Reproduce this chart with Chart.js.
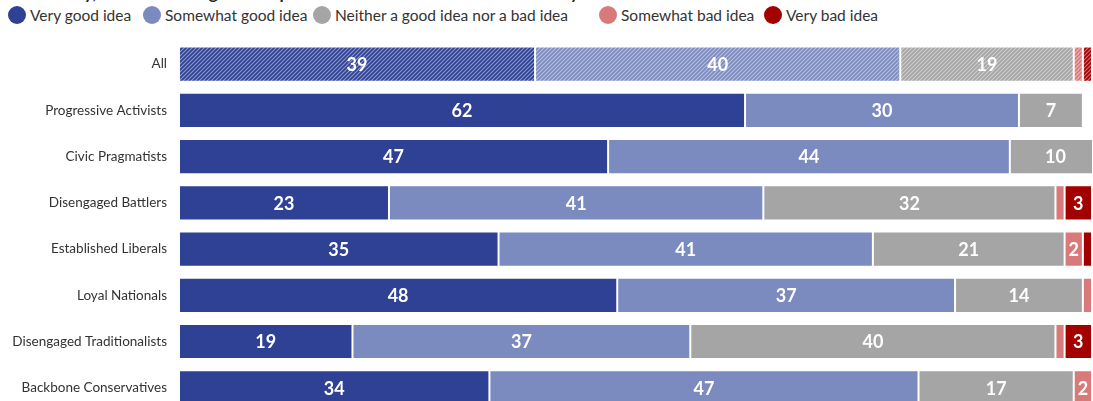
<!DOCTYPE html>
<html>
<head>
<meta charset="utf-8">
<script src="https://cdn.jsdelivr.net/npm/chart.js@4"></script>
<style>
  body { margin: 0; overflow: hidden; background: #fff; font-family: Lato, "Noto Sans", sans-serif; }
  #title { position: absolute; left: 8px; top: -18px; font-weight: bold; font-size: 17px; color: #222; white-space: nowrap; }
  #legend { position: absolute; left: 0; top: 6px; width: 1093px; height: 20px; font-size: 15.5px; color: #333; }
  #legend span.item { position: absolute; top: 0; display: flex; align-items: center; gap: 4px; white-space: nowrap; }
  #legend span.dot { width: 18px; height: 18px; border-radius: 50%; display: inline-block; }
  #chart { position: absolute; left: 0; top: 0; }
</style>
</head>
<body>
<div id="title">community, rather than to generate profits for shareholders or owners. Do you think this is a:</div>
<div id="legend"></div>
<canvas id="chart" width="1093" height="431"></canvas>
<script>
var categories = ['All', 'Progressive Activists', 'Civic Pragmatists', 'Disengaged Battlers',
    'Established Liberals', 'Loyal Nationals', 'Disengaged Traditionalists', 'Backbone Conservatives'];
var seriesNames = ['Very good idea', 'Somewhat good idea', 'Neither a good idea nor a bad idea',
    'Somewhat bad idea', 'Very bad idea'];
var veryGood     = [39, 62, 47, 23, 35, 48, 19, 34];
var somewhatGood = [40, 30, 44, 41, 41, 37, 37, 47];
var neither      = [19,  7, 10, 32, 21, 14, 40, 17];
var somewhatBad  = [ 1,  0,  0,  1,  2,  1,  1,  2];
var veryBad      = [ 1,  0,  0,  3,  1,  0,  3,  0];
var colors = ['#2f4195', '#7b8abf', '#a5a5a5', '#d97a7a', '#a30000'];
var legendLeft = [8, 143, 313, 599, 764];

function hatch(color){
    var c = document.createElement('canvas');
    c.width = 4; c.height = 4;
    var g = c.getContext('2d');
    g.fillStyle = color;
    g.fillRect(0, 0, 4, 4);
    g.strokeStyle = 'rgba(255,255,255,0.45)';
    g.lineWidth = 1.2;
    g.beginPath();
    g.moveTo(0, 4); g.lineTo(4, 0);
    g.moveTo(-1, 1); g.lineTo(1, -1);
    g.moveTo(3, 5); g.lineTo(5, 3);
    g.stroke();
    return g.createPattern(c, 'repeat');
}

// html legend
var legend = document.getElementById('legend');
seriesNames.forEach(function(n, i){
    var s = document.createElement('span');
    s.className = 'item';
    s.style.left = legendLeft[i] + 'px';
    s.innerHTML = '<span class="dot" style="background:' + colors[i] + '"></span>' + n;
    legend.appendChild(s);
});

var allSeries = [veryGood, somewhatGood, neither, somewhatBad, veryBad];
var datasets = allSeries.map(function(d, i){
    var bg = categories.map(function(c, j){ return j == 0 ? hatch(colors[i]) : colors[i]; });
    return {
        label: seriesNames[i],
        data: d,
        backgroundColor: bg,
        borderColor: 'rgba(255,255,255,0.85)',
        borderWidth: 1,
        borderSkipped: false,
        barPercentage: 0.76,
        categoryPercentage: 1
    };
});

var valueLabels = {
    id: 'valueLabels',
    afterDatasetsDraw: function(chart){
        var ctx = chart.ctx;
        var area = chart.chartArea;
        ctx.save();
        ctx.beginPath();
        ctx.rect(area.left, area.top, area.right - area.left, area.bottom - area.top + 20);
        ctx.clip();
        ctx.fillStyle = '#fff';
        ctx.font = 'bold 18px Lato, "Noto Sans", sans-serif';
        ctx.textAlign = 'center';
        ctx.textBaseline = 'middle';
        chart.data.datasets.forEach(function(ds, i){
            var meta = chart.getDatasetMeta(i);
            meta.data.forEach(function(el, j){
                var v = ds.data[j];
                if(v < 2) return;
                var x = (el.x + el.base) / 2;
                ctx.fillText(String(v), x, el.y + 1);
            });
        });
        ctx.restore();
    }
};

new Chart(document.getElementById('chart').getContext('2d'), {
    type: 'bar',
    data: { labels: categories, datasets: datasets },
    options: {
        indexAxis: 'y',
        responsive: false,
        animation: false,
        layout: { padding: { top: 41, right: 1, bottom: 1, left: 0 } },
        plugins: { legend: { display: false }, tooltip: { enabled: false } },
        scales: {
            x: { stacked: true, min: 0, max: 100, display: false },
            y: {
                stacked: true,
                grid: { display: false, drawTicks: false },
                border: { display: false },
                afterFit: function(scale){ scale.width = 179; },
                ticks: { color: '#333', font: { family: 'Lato, "Noto Sans", sans-serif', size: 13.5 }, padding: 12 }
            }
        }
    },
    plugins: [valueLabels]
});
</script>
</body>
</html>
